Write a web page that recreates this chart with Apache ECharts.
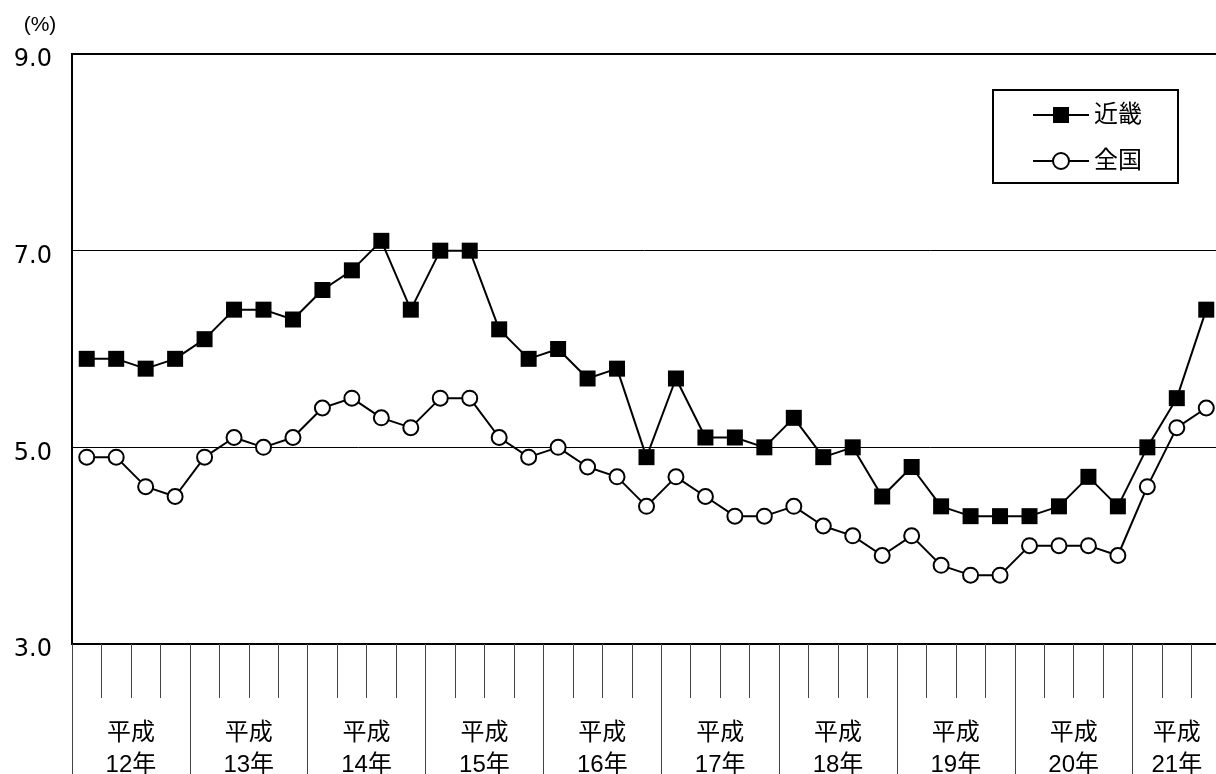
<!DOCTYPE html>
<html>
<head>
<meta charset="utf-8">
<style>
  html, body { margin: 0; padding: 0; background: #fff; }
  #chart { width: 1216px; height: 774px; }
</style>
<script src="https://cdn.jsdelivr.net/npm/echarts@6/dist/echarts.min.js"></script>
</head>
<body>
<div id="chart"></div>
<script>
// 完全失業率の推移（四半期）: 近畿と全国
const years = ['12年', '13年', '14年', '15年', '16年', '17年', '18年', '19年', '20年', '21年'];
const quartersPerYear = [4, 4, 4, 4, 4, 4, 4, 4, 4, 3];
const eraName = '平成';

const kinki = [5.9, 5.9, 5.8, 5.9, 6.1, 6.4, 6.4, 6.3, 6.6, 6.8, 7.1, 6.4, 7.0, 7.0, 6.2, 5.9,
               6.0, 5.7, 5.8, 4.9, 5.7, 5.1, 5.1, 5.0, 5.3, 4.9, 5.0, 4.5, 4.8, 4.4, 4.3, 4.3,
               4.3, 4.4, 4.7, 4.4, 5.0, 5.5, 6.4];
const zenkoku = [4.9, 4.9, 4.6, 4.5, 4.9, 5.1, 5.0, 5.1, 5.4, 5.5, 5.3, 5.2, 5.5, 5.5, 5.1, 4.9,
                 5.0, 4.8, 4.7, 4.4, 4.7, 4.5, 4.3, 4.3, 4.4, 4.2, 4.1, 3.9, 4.1, 3.8, 3.7, 3.7,
                 4.0, 4.0, 4.0, 3.9, 4.6, 5.2, 5.4];

const yTicks = [3.0, 5.0, 7.0, 9.0];

// quarter categories and the index where each year starts
const categories = [];
const yearStart = new Set();
years.forEach((y, yi) => {
  yearStart.add(categories.length);
  for (let q = 1; q <= quartersPerYear[yi]; q++) categories.push(y + ' ' + q + 'Q');
});

// half-quarter slots: year labels sit at the middle of each year's span
const halfSlots = new Array(categories.length * 2 + 1).fill('');
let start = 0;
years.forEach((y, yi) => {
  halfSlots[start * 2 + quartersPerYear[yi]] = eraName + '\n' + y;
  start += quartersPerYear[yi];
});

const FONT = '"Liberation Sans", "Noto Sans CJK JP", sans-serif';
const NUM_FONT = '"DejaVu Sans", sans-serif';

const chart = echarts.init(document.getElementById('chart'));
chart.setOption({
  animation: false,
  backgroundColor: '#fff',
  textStyle: { fontFamily: FONT, color: '#000' },
  grid: {
    left: 72, top: 54, width: 1149, height: 590,
    outerBoundsMode: 'none',
    show: true, borderColor: '#000', borderWidth: 2, backgroundColor: 'transparent'
  },
  legend: {
    orient: 'vertical',
    left: 993, top: 90,
    padding: [13, 36, 10, 39],
    itemWidth: 56, itemHeight: 20, itemGap: 22,
    borderColor: '#000', borderWidth: 2,
    textStyle: { fontSize: 24, fontFamily: FONT, color: '#000' },
    data: ['近畿', '全国']
  },
  xAxis: [
    {
      type: 'category', data: categories, boundaryGap: true, position: 'bottom',
      axisLine: { show: true, lineStyle: { color: '#000', width: 2 } },
      axisTick: { show: true, interval: 0, length: 54, lineStyle: { color: '#444', width: 1 } },
      axisLabel: { show: false }, splitLine: { show: false }
    },
    {
      type: 'category', data: categories, boundaryGap: true, position: 'bottom',
      axisLine: { show: false },
      axisTick: { show: true, interval: (i) => yearStart.has(i), length: 140, lineStyle: { color: '#444', width: 1 } },
      axisLabel: { show: false }, splitLine: { show: false }
    },
    {
      type: 'category', data: halfSlots, boundaryGap: false, position: 'bottom',
      axisLine: { show: false }, axisTick: { show: false }, splitLine: { show: false },
      axisLabel: {
        show: true, interval: 0, margin: 73, verticalAlign: 'top',
        fontSize: 24, lineHeight: 32, color: '#000', fontFamily: FONT
      }
    }
  ],
  yAxis: {
    type: 'value', min: yTicks[0], max: yTicks[yTicks.length - 1], interval: 2,
    name: '(%)', nameLocation: 'end', nameGap: 18,
    nameTextStyle: { fontSize: 21, color: '#000', fontFamily: FONT, padding: [0, 64, 0, 0] },
    axisLine: { show: false }, axisTick: { show: false },
    axisLabel: {
      fontSize: 24, color: '#000', margin: 20, fontFamily: NUM_FONT,
      verticalAlign: 'top', lineHeight: 12,
      formatter: (v) => v.toFixed(1)
    },
    splitLine: { show: true, lineStyle: { color: '#000', width: 1 } }
  },
  series: [
    {
      name: '近畿', type: 'line', xAxisIndex: 0, data: kinki,
      symbol: 'rect', symbolSize: 16,
      lineStyle: { color: '#000', width: 2 },
      itemStyle: { color: '#000', borderColor: '#000', borderWidth: 0 },
      z: 3
    },
    {
      name: '全国', type: 'line', xAxisIndex: 0, data: zenkoku,
      symbol: 'circle', symbolSize: 15,
      lineStyle: { color: '#000', width: 2 },
      itemStyle: { color: '#fff', borderColor: '#000', borderWidth: 2 },
      z: 3
    }
  ]
});
</script>
</body>
</html>
